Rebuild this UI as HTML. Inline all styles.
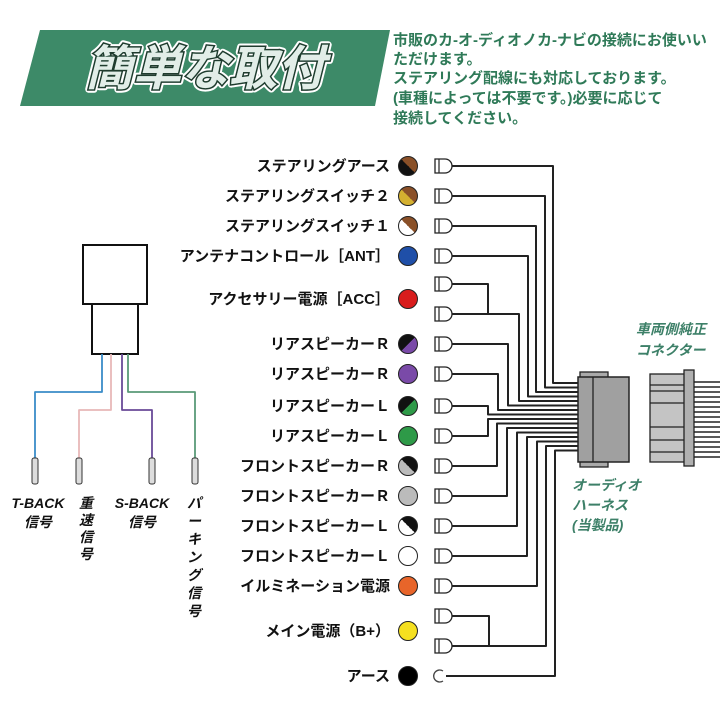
<!DOCTYPE html>
<html><head><meta charset="utf-8"><style>
body{margin:0;background:#fff;width:720px;height:725px;overflow:hidden}
svg{display:block}
text{font-family:"Liberation Sans","Noto Sans CJK JP",sans-serif}
</style></head><body>
<svg width="720" height="725" viewBox="0 0 720 725" xmlns="http://www.w3.org/2000/svg">
<defs>
<linearGradient id="brbk" x1="1" y1="0" x2="0" y2="1"><stop offset="0.5" stop-color="#8a5028"/><stop offset="0.5" stop-color="#111"/></linearGradient>
<linearGradient id="bryl" x1="1" y1="0" x2="0" y2="1"><stop offset="0.5" stop-color="#8a5028"/><stop offset="0.5" stop-color="#d4b030"/></linearGradient>
<linearGradient id="brwh" x1="1" y1="0" x2="0" y2="1"><stop offset="0.5" stop-color="#8a5028"/><stop offset="0.5" stop-color="#fff"/></linearGradient>
<linearGradient id="bkpu" x1="0" y1="0" x2="1" y2="1"><stop offset="0.5" stop-color="#111"/><stop offset="0.5" stop-color="#7a4aa8"/></linearGradient>
<linearGradient id="bkgr" x1="0" y1="0" x2="1" y2="1"><stop offset="0.5" stop-color="#111"/><stop offset="0.5" stop-color="#2e9a48"/></linearGradient>
<linearGradient id="bkgy" x1="1" y1="0" x2="0" y2="1"><stop offset="0.5" stop-color="#111"/><stop offset="0.5" stop-color="#bbb"/></linearGradient>
<linearGradient id="bkwh" x1="1" y1="0" x2="0" y2="1"><stop offset="0.5" stop-color="#111"/><stop offset="0.5" stop-color="#fff"/></linearGradient>
<g id="term"><path d="M0,-7 h10 a7,7 0 0 1 0,14 h-10 z" fill="#fff" stroke="#222" stroke-width="1.3"/><line x1="4" y1="-7" x2="4" y2="7" stroke="#222" stroke-width="1.2"/></g>
</defs>

<!-- header -->
<polygon points="40,30 390,30 375,106 20,106" fill="#3d8a68"/>
<text x="205" y="85" text-anchor="middle" font-size="48" font-weight="bold" fill="#fff" stroke="#fff" stroke-width="7" stroke-linejoin="round" font-style="italic">簡単な取付</text>
<text x="205" y="85" text-anchor="middle" font-size="48" font-weight="bold" fill="#3d8a68" stroke="#1f3b2e" stroke-width="3" paint-order="stroke" font-style="italic">簡単な取付</text>
<text x="205" y="85" text-anchor="middle" font-size="48" font-weight="bold" fill="#fff" font-style="italic" transform="translate(0,0)" opacity="0.85">簡単な取付</text>
<g font-size="15" font-weight="bold" fill="#2f7a58">
<text x="393" y="45">市販のカ-オ-ディオノカ-ナビの接続にお使いい</text>
<text x="393" y="64">ただけます。</text>
<text x="393" y="83">ステアリング配線にも対応しております。</text>
<text x="393" y="103">(車種によっては不要です。)必要に応じて</text>
<text x="393" y="123">接続してください。</text>
</g>

<!-- labels -->
<g font-size="15" font-weight="bold" fill="#111" text-anchor="end">
<text x="390" y="171">ステアリングアース</text>
<text x="390" y="201">ステアリングスイッチ２</text>
<text x="390" y="231">ステアリングスイッチ１</text>
<text x="390" y="261">アンテナコントロール［ANT］</text>
<text x="390" y="304">アクセサリー電源［ACC］</text>
<text x="390" y="349">リアスピーカーＲ</text>
<text x="390" y="379">リアスピーカーＲ</text>
<text x="390" y="411">リアスピーカーＬ</text>
<text x="390" y="441">リアスピーカーＬ</text>
<text x="390" y="471">フロントスピーカーＲ</text>
<text x="390" y="501">フロントスピーカーＲ</text>
<text x="390" y="531">フロントスピーカーＬ</text>
<text x="390" y="561">フロントスピーカーＬ</text>
<text x="390" y="591">イルミネーション電源</text>
<text x="390" y="636">メイン電源（B+）</text>
<text x="390" y="681">アース</text>
</g>

<!-- circles -->
<g stroke="#222" stroke-width="1">
<circle cx="408" cy="166" r="9.5" fill="url(#brbk)"/>
<circle cx="408" cy="196" r="9.5" fill="url(#bryl)"/>
<circle cx="408" cy="226" r="9.5" fill="url(#brwh)"/>
<circle cx="408" cy="256" r="9.5" fill="#1f4fa8"/>
<circle cx="408" cy="299" r="9.5" fill="#d81c1c"/>
<circle cx="408" cy="344" r="9.5" fill="url(#bkpu)"/>
<circle cx="408" cy="374" r="9.5" fill="#7a4aa8"/>
<circle cx="408" cy="406" r="9.5" fill="url(#bkgr)"/>
<circle cx="408" cy="436" r="9.5" fill="#2e9a48"/>
<circle cx="408" cy="466" r="9.5" fill="url(#bkgy)"/>
<circle cx="408" cy="496" r="9.5" fill="#bbb"/>
<circle cx="408" cy="526" r="9.5" fill="url(#bkwh)"/>
<circle cx="408" cy="556" r="9.5" fill="#fff"/>
<circle cx="408" cy="586" r="9.5" fill="#e8652a"/>
<circle cx="408" cy="631" r="9.5" fill="#f5e020"/>
<circle cx="408" cy="676" r="9.5" fill="#000"/>
</g>

<!-- wires -->
<g fill="none" stroke="#222" stroke-width="2" stroke-linejoin="round">
<polyline points="452,166 553,166 553,383 578,383"/>
<polyline points="452,196 545,196 545,387.5 578,387.5"/>
<polyline points="452,226 536,226 536,392 578,392"/>
<polyline points="452,256 528,256 528,396.5 578,396.5"/>
<polyline points="452,284 488,284 488,314"/>
<polyline points="452,314 519,314 519,401 578,401"/>
<polyline points="452,344 508,344 508,405.5 578,405.5"/>
<polyline points="452,374 498,374 498,410 578,410"/>
<polyline points="452,406 488,406 488,414.5 578,414.5"/>
<polyline points="452,436 488,436 488,419 578,419"/>
<polyline points="452,466 497,466 497,423.5 578,423.5"/>
<polyline points="452,496 507,496 507,428 578,428"/>
<polyline points="452,526 517,526 517,432.5 578,432.5"/>
<polyline points="452,556 527,556 527,437 578,437"/>
<polyline points="452,586 537,586 537,441.5 578,441.5"/>
<polyline points="452,616 489,616 489,646"/>
<polyline points="452,646 546,646 546,446 578,446"/>
<polyline points="446,676 555,676 555,450.5 578,450.5"/>
</g>

<!-- terminals -->
<use href="#term" x="435" y="166"/><use href="#term" x="435" y="196"/>
<use href="#term" x="435" y="226"/><use href="#term" x="435" y="256"/>
<use href="#term" x="435" y="284"/><use href="#term" x="435" y="314"/>
<use href="#term" x="435" y="344"/><use href="#term" x="435" y="374"/>
<use href="#term" x="435" y="406"/><use href="#term" x="435" y="436"/>
<use href="#term" x="435" y="466"/><use href="#term" x="435" y="496"/>
<use href="#term" x="435" y="526"/><use href="#term" x="435" y="556"/>
<use href="#term" x="435" y="586"/><use href="#term" x="435" y="616"/>
<use href="#term" x="435" y="646"/>
<path d="M443,671 a6,6 0 1 0 0,10" fill="none" stroke="#444" stroke-width="1.3"/>

<!-- harness connector -->
<rect x="580" y="372" width="28" height="6" fill="#aaa" stroke="#222" stroke-width="1.3"/>
<rect x="580" y="461" width="28" height="6" fill="#aaa" stroke="#222" stroke-width="1.3"/>
<rect x="578" y="377" width="51" height="85" fill="#a0a0a0" stroke="#222" stroke-width="1.5"/>
<line x1="593" y1="377" x2="593" y2="462" stroke="#222" stroke-width="1.3"/>

<!-- vehicle connector -->
<g stroke="#222" stroke-width="1.3">
<rect x="650" y="374" width="36" height="88" fill="#c4c4c4"/>
<rect x="684" y="370" width="10" height="96" fill="#b0b0b0"/>
<g stroke-width="1.5">
<line x1="694" y1="382" x2="720" y2="382"/><line x1="694" y1="387" x2="720" y2="387"/>
<line x1="694" y1="392" x2="720" y2="392"/><line x1="694" y1="397" x2="720" y2="397"/>
<line x1="694" y1="402" x2="720" y2="402"/><line x1="694" y1="407" x2="720" y2="407"/>
<line x1="694" y1="412" x2="720" y2="412"/><line x1="694" y1="417" x2="720" y2="417"/>
<line x1="694" y1="422" x2="720" y2="422"/><line x1="694" y1="427" x2="720" y2="427"/>
<line x1="694" y1="432" x2="720" y2="432"/><line x1="694" y1="437" x2="720" y2="437"/>
<line x1="694" y1="442" x2="720" y2="442"/><line x1="694" y1="447" x2="720" y2="447"/>
<line x1="694" y1="452" x2="720" y2="452"/><line x1="694" y1="457" x2="720" y2="457"/>
</g>
<line x1="650" y1="385" x2="684" y2="385"/><line x1="650" y1="391" x2="684" y2="391"/>
<line x1="650" y1="403" x2="684" y2="403"/><line x1="650" y1="427" x2="684" y2="427"/>
<line x1="650" y1="440" x2="684" y2="440"/><line x1="650" y1="452" x2="684" y2="452"/>
</g>

<g font-size="14" font-weight="bold" font-style="italic" fill="#3d8068">
<text x="636" y="334">車両側純正</text>
<text x="636" y="355">コネクター</text>
<text x="572" y="490">オーディオ</text>
<text x="572" y="510">ハーネス</text>
<text x="572" y="530">(当製品)</text>
</g>

<!-- left module -->
<rect x="83" y="245" width="64" height="59" fill="#fff" stroke="#111" stroke-width="2"/>
<rect x="92" y="304" width="46" height="50" fill="#fff" stroke="#111" stroke-width="2"/>
<g fill="none" stroke-width="1.8" stroke-linejoin="round">
<polyline points="102,354 102,392 35,392 35,460" stroke="#3a8cc8"/>
<polyline points="111,354 111,410 79,410 79,460" stroke="#e8b8b8"/>
<polyline points="122,354 122,410 152,410 152,460" stroke="#6a4a98"/>
<polyline points="128,354 128,392 195,392 195,460" stroke="#5a9a78"/>
</g>
<g fill="#ddd" stroke="#333" stroke-width="1">
<rect x="32" y="458" width="6" height="26" rx="2"/>
<rect x="76" y="458" width="6" height="26" rx="2"/>
<rect x="149" y="458" width="6" height="26" rx="2"/>
<rect x="192" y="458" width="6" height="26" rx="2"/>
</g>
<g font-size="14" font-weight="bold" font-style="italic" fill="#111">
<text x="38" y="508" text-anchor="middle">T-BACK</text>
<text x="38" y="527" text-anchor="middle">信号</text>
<text x="142" y="508" text-anchor="middle">S-BACK</text>
<text x="142" y="527" text-anchor="middle">信号</text>
<text x="86" y="508" text-anchor="middle">重</text>
<text x="86" y="525" text-anchor="middle">速</text>
<text x="86" y="542" text-anchor="middle">信</text>
<text x="86" y="559" text-anchor="middle">号</text>
<text x="194" y="508" text-anchor="middle">パ</text>
<text x="194" y="526" text-anchor="middle">ー</text>
<text x="194" y="544" text-anchor="middle">キ</text>
<text x="194" y="562" text-anchor="middle">ン</text>
<text x="194" y="580" text-anchor="middle">グ</text>
<text x="194" y="598" text-anchor="middle">信</text>
<text x="194" y="616" text-anchor="middle">号</text>
</g>
</svg>
</body></html>
